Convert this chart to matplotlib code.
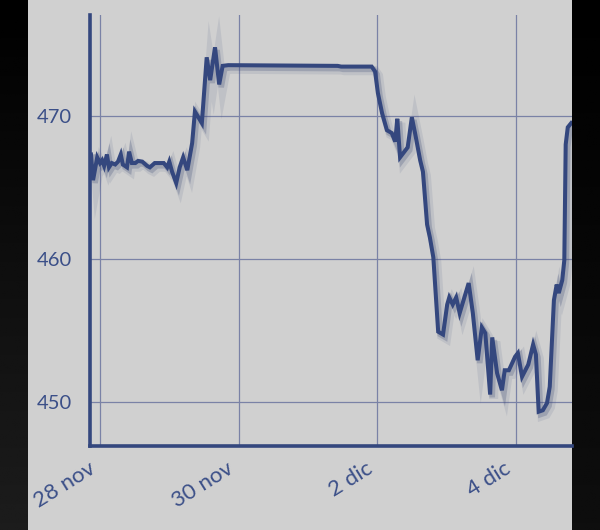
import matplotlib
matplotlib.use("Agg")
import matplotlib.pyplot as plt
import matplotlib.patheffects as pe
import matplotlib.transforms as mtrans
from matplotlib.patches import Rectangle
import numpy as np

# days since 28 nov 00:00, and price
days = [-0.13, -0.10, -0.04, 0.00, 0.03, 0.06, 0.10, 0.13, 0.17, 0.22,
        0.26, 0.30, 0.33, 0.39, 0.42, 0.46, 0.51, 0.55, 0.61, 0.68,
        0.72, 0.79, 0.87, 0.92, 0.97, 1.00, 1.04, 1.10, 1.15, 1.20,
        1.26, 1.33, 1.37, 1.47, 1.54, 1.59, 1.66, 1.72, 1.77, 1.85,
        3.43, 3.48, 3.92, 3.97, 4.01, 4.07, 4.14, 4.21, 4.26, 4.29,
        4.33, 4.44, 4.50, 4.55, 4.62, 4.66, 4.72, 4.76, 4.81, 4.88,
        4.95, 5.01, 5.04, 5.09, 5.14, 5.19, 5.32, 5.38, 5.45, 5.51,
        5.56, 5.63, 5.66, 5.73, 5.80, 5.84, 5.90, 5.99, 6.03, 6.09,
        6.18, 6.25, 6.29, 6.33, 6.39, 6.45, 6.49, 6.55, 6.59, 6.62,
        6.67, 6.70, 6.72, 6.75, 6.80]
price = [467.3, 465.5, 467.1, 466.7, 466.9, 466.5, 467.3, 466.4, 466.7, 466.6,
         466.8, 467.3, 466.6, 466.4, 467.5, 466.7, 466.7, 466.85, 466.8, 466.5,
         466.4, 466.7, 466.7, 466.7, 466.4, 466.8, 466.1, 465.3, 466.4, 467.1,
         466.2, 468.1, 470.3, 469.5, 474.1, 472.5, 474.8, 472.2, 473.5, 473.55,
         473.5, 473.45, 473.45, 473.1, 471.6, 470.2, 469.0, 468.8, 468.2, 469.8,
         467.1, 467.8, 469.9, 468.7, 466.9, 466.1, 462.4, 461.5, 460.1, 454.9,
         454.7, 456.8, 457.3, 456.8, 457.3, 456.2, 458.3, 456.2, 452.9, 455.2,
         454.8, 450.5, 454.5, 452.0, 450.8, 452.2, 452.2, 453.15, 453.4, 451.75,
         452.6, 454.0, 453.3, 449.3, 449.4, 449.9, 451.05, 457.1, 458.2, 457.6,
         458.5, 459.9, 468.0, 469.2, 469.5]

xticks = [0, 2, 4, 6]
xlabels = ['28 nov', '30 nov', '2 dic', '4 dic']
yticks = [450, 460, 470]

blue = '#34477e'
label_blue = '#3b4f88'
grid_c = '#7a82a6'
panel = '#d0d0d0'

plt.rcParams['font.family'] = ['Lato', 'DejaVu Sans']

fig = plt.figure(figsize=(6, 5.3), dpi=100)
fig.patch.set_facecolor('#050505')

# dark margins: left one a bit lighter toward the bottom
bg = fig.add_axes([0, 0, 1, 1], zorder=-10)
grad = np.linspace(0.0, 1.0, 256).reshape(-1, 1)
bg.imshow(grad, aspect='auto', cmap='gray', vmin=0, vmax=9, extent=[0, 0.05, 0, 1],
          origin='upper')
bg.imshow(grad * 0.5, aspect='auto', cmap='gray', vmin=0, vmax=9,
          extent=[0.95, 1, 0, 1], origin='upper')
bg.set_xlim(0, 1)
bg.set_ylim(0, 1)
bg.set_axis_off()
fig.patches.append(Rectangle((28 / 600, 0), 544 / 600, 1, transform=fig.transFigure,
                             facecolor=panel, edgecolor='none', zorder=-5))

ax = fig.add_axes([90 / 600, 1 - 446 / 530, 482 / 600, 431 / 530])
ax.set_facecolor('none')

ax.plot(days, price, color=blue, linewidth=2.9, solid_joinstyle='miter',
        path_effects=[pe.SimpleLineShadow(offset=(2.5, -3), shadow_color='#4a5780',
                                          alpha=0.12, linewidth=6.5),
                      pe.SimpleLineShadow(offset=(1.5, -2), shadow_color='#3a4672',
                                          alpha=0.25, linewidth=4),
                      pe.Normal()])

ax.set_xlim(-0.144, 6.811)
ax.set_ylim(446.9, 477.06)
ax.set_xticks(xticks)
ax.set_xticklabels(xlabels, rotation=32, ha='right', rotation_mode='anchor')
ax.set_yticks(yticks)
ax.grid(True, color=grid_c, linewidth=0.9)
ax.set_axisbelow(True)

for s in ['top', 'right']:
    ax.spines[s].set_visible(False)
for s in ['left', 'bottom']:
    ax.spines[s].set_color(blue)
    ax.spines[s].set_linewidth(2.6)

ax.tick_params(axis='y', length=0, labelsize=14.5, labelcolor=label_blue, pad=13)
ax.tick_params(axis='x', length=0, labelsize=16, labelcolor=label_blue, pad=9)

shift = mtrans.ScaledTranslation(-12 / 100, 0, fig.dpi_scale_trans)
for lab in ax.get_xticklabels():
    lab.set_transform(lab.get_transform() + shift)

fig.savefig('out.png', dpi=100, facecolor=fig.get_facecolor())
